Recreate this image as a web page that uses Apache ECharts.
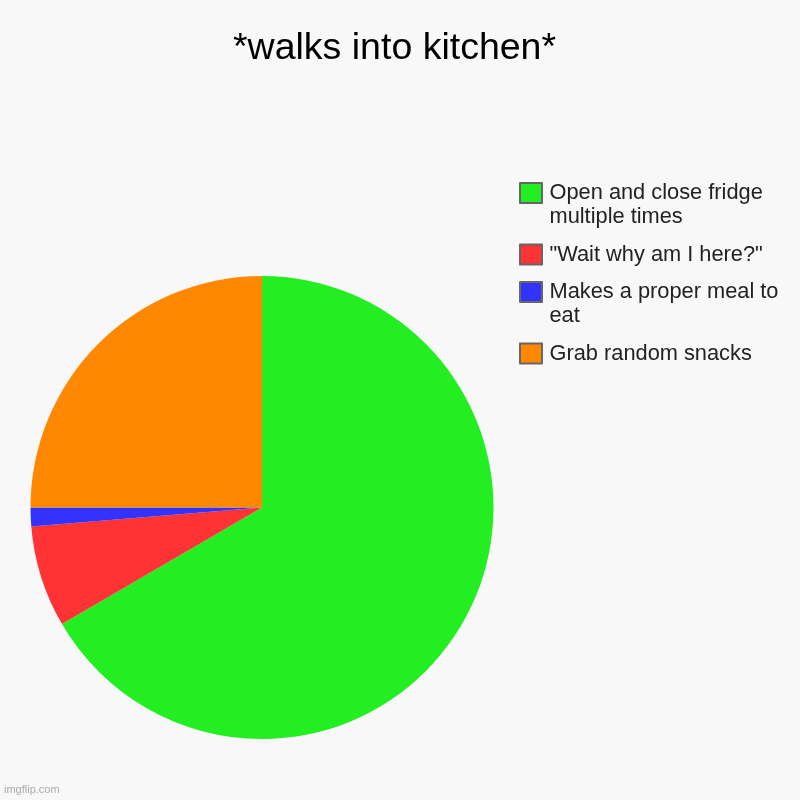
<!DOCTYPE html>
<html>
<head>
<meta charset="utf-8">
<script src="https://cdn.jsdelivr.net/npm/echarts@6/dist/echarts.min.js"></script>
<style>
html,body{margin:0;padding:0;background:#f8f8f8;}
#chart{width:800px;height:800px;}
</style>
</head>
<body>
<div id="chart"></div>
<script>
var categories = ['Open and close fridge multiple times', '"Wait why am I here?"', 'Makes a proper meal to eat', 'Grab random snacks'];
var legendLabels = ['Open and close fridge\nmultiple times', '"Wait why am I here?"', 'Makes a proper meal to\neat', 'Grab random snacks'];
var values = [66.6, 7.1, 1.3, 25];
var colors = ['#22ee22', '#ff3333', '#3333ff', '#ff8800'];
var legendTops = [180, 242.5, 279, 341.5];

var LINE_H = 24;
var chart = echarts.init(document.getElementById('chart'), null, {renderer: 'canvas'});

var legends = categories.map(function (name, i) {
  var twoLine = legendLabels[i].indexOf('\n') >= 0;
  var h = twoLine ? LINE_H * 2 : 20;
  // two-line items: box sits beside the first line only
  var icon = twoLine
    ? 'path://M0,0 M22,' + h + ' M0,2 L22,2 L22,22 L0,22 Z'
    : 'rect';
  return {
    data: [name],
    orient: 'vertical',
    left: 519,
    top: legendTops[i],
    padding: 0,
    icon: icon,
    itemWidth: 22,
    itemHeight: h,
    symbolKeepAspect: false,
    itemStyle: {borderColor: '#666666', borderWidth: 2},
    selectedMode: false,
    formatter: function () { return legendLabels[i]; },
    textStyle: {
      fontFamily: 'Liberation Sans, Arial, sans-serif',
      fontSize: 21.8,
      lineHeight: LINE_H,
      color: '#222222',
      padding: [0, 0, 0, 2.5]
    }
  };
});

chart.setOption({
  backgroundColor: '#f8f8f8',
  animation: false,
  title: {
    text: '*walks into kitchen*',
    left: 233,
    top: 30,
    padding: 0,
    textStyle: {
      fontFamily: 'Liberation Sans, Arial, sans-serif',
      fontSize: 37.5,
      fontWeight: 'normal',
      color: '#000000'
    }
  },
  legend: legends,
  graphic: [{
    type: 'text',
    left: 4,
    top: 784,
    style: {
      text: 'imgflip.com',
      fontFamily: 'Liberation Sans, Arial, sans-serif',
      fontSize: 11,
      fill: '#aaaaaa'
    }
  }],
  series: [{
    type: 'pie',
    center: [262, 507.5],
    radius: 231.5,
    startAngle: 90,
    clockwise: true,
    label: {show: false},
    labelLine: {show: false},
    emphasis: {disabled: true},
    itemStyle: {borderWidth: 0},
    data: categories.map(function (name, i) {
      return {name: name, value: values[i], itemStyle: {color: colors[i]}};
    })
  }]
});
</script>
</body>
</html>
